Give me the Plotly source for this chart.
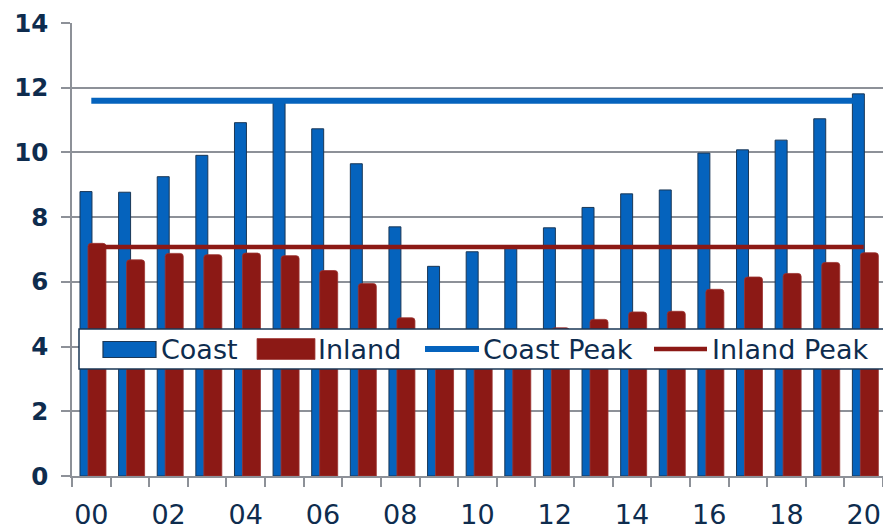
import plotly.graph_objects as go

years = ["00", "01", "02", "03", "04", "05", "06", "07", "08", "09", "10",
         "11", "12", "13", "14", "15", "16", "17", "18", "19", "20"]
coast = [8.79, 8.77, 9.25, 9.91, 10.92, 11.6, 10.73, 9.65, 7.70, 6.48, 6.93,
         7.09, 7.67, 8.30, 8.72, 8.84, 9.98, 10.08, 10.38, 11.04, 11.81]
inland = [7.19, 6.68, 6.88, 6.84, 6.89, 6.81, 6.35, 5.95, 4.89, 4.40, 4.45,
          4.38, 4.58, 4.84, 5.07, 5.09, 5.77, 6.15, 6.26, 6.60, 6.90]
coast_peak = 11.6
inland_peak = 7.08
label_years = ["00", "02", "04", "06", "08", "10", "12", "14", "16", "18", "20"]
series_names = ["Coast", "Inland", "Coast Peak", "Inland Peak"]

idx = list(range(len(years)))
label_idx = [years.index(y) for y in label_years]

BLUE = "#0563bd"
RED = "#8c1915"
NAVY = "#0e2c4e"
EDGE = "#1a3756"
GRID = "#8d9198"
FONT = "DejaVu Sans"

# plot area in pixels (for the hand-drawn legend box)
L, R, T, B = 72, 883, 23, 476


def px(x):
    return (x - L) / (R - L)


def py(y):
    return (B - y) / (B - T)


fig = go.Figure()
fig.add_trace(go.Bar(
    x=idx, y=coast, name=series_names[0], offset=-0.293, width=0.31,
    marker=dict(color=BLUE, line=dict(color=EDGE, width=1)),
))
fig.add_trace(go.Bar(
    x=idx, y=inland, name=series_names[1], offset=-0.086, width=0.466,
    marker=dict(color=RED, line=dict(color="#9c3431", width=0.8), cornerradius=3),
))
fig.add_trace(go.Scatter(
    x=idx, y=[coast_peak] * len(idx), name=series_names[2], mode="lines",
    line=dict(color=BLUE, width=6),
))
fig.add_trace(go.Scatter(
    x=idx, y=[inland_peak] * len(idx), name=series_names[3], mode="lines",
    line=dict(color=RED, width=4.5),
))

# legend box (drawn as shapes + text so the swatches match the original size)
shapes = [
    dict(type="rect", xref="paper", yref="paper", x0=px(79), x1=px(886), y0=py(369), y1=py(329),
         fillcolor="white", line=dict(color=EDGE, width=1.5), layer="above"),
    dict(type="rect", xref="paper", yref="paper", x0=px(103), x1=px(156), y0=py(357.5), y1=py(341.5),
         fillcolor=BLUE, line=dict(color=EDGE, width=1.2), layer="above"),
    dict(type="rect", xref="paper", yref="paper", x0=px(257), x1=px(315), y0=py(359.5), y1=py(338.5),
         fillcolor=RED, line=dict(color="#a5423f", width=0.8), layer="above"),
    dict(type="line", xref="paper", yref="paper", x0=px(425), x1=px(479), y0=py(349), y1=py(349),
         line=dict(color=BLUE, width=6), layer="above"),
    dict(type="line", xref="paper", yref="paper", x0=px(654), x1=px(707), y0=py(349), y1=py(349),
         line=dict(color=RED, width=4.5), layer="above"),
]
text_left = [160, 317, 482, 711]
annotations = [
    dict(text=name, xref="paper", yref="paper", x=px(xl), y=py(349), xanchor="left", yanchor="middle",
         showarrow=False, font=dict(family=FONT, size=27, color=NAVY), borderpad=0)
    for name, xl in zip(series_names, text_left)
]

fig.update_layout(
    width=883, height=531,
    margin=dict(l=L, r=883 - R, t=T, b=531 - B),
    paper_bgcolor="white", plot_bgcolor="white",
    barmode="overlay",
    font=dict(family=FONT, color=NAVY),
    showlegend=False,
    shapes=shapes,
    annotations=annotations,
    xaxis=dict(
        range=[-0.5, 20.5], tickmode="array", tickvals=label_idx, ticktext=label_years,
        ticks="", showgrid=False, showline=True, linecolor=GRID, linewidth=1.5,
        tickfont=dict(family=FONT, size=27, color=NAVY), ticklabelstandoff=14,
        minor=dict(tickmode="array", tickvals=[i - 0.5 for i in range(len(years) + 1)],
                   ticks="outside", ticklen=9, tickcolor=GRID, tickwidth=1.5, showgrid=False),
        zeroline=False,
    ),
    yaxis=dict(
        range=[0, 14], tickvals=[0, 2, 4, 6, 8, 10, 12, 14],
        showgrid=True, gridcolor=GRID, gridwidth=1.5,
        showline=True, linecolor=GRID, linewidth=1.5,
        ticks="outside", ticklen=9, tickcolor=GRID, tickwidth=1.5,
        tickfont=dict(family=FONT, size=24.5, color=NAVY, weight="bold"),
        ticklabelstandoff=8, zeroline=False,
    ),
)

fig.write_html("out.html")
